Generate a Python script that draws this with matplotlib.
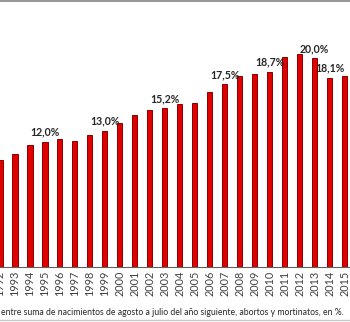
import matplotlib.pyplot as plt
from matplotlib.lines import Line2D

years = list(range(1992, 2016))
ratio = [10.2, 10.8, 11.7, 12.0, 12.2, 12.1, 12.6, 13.0, 13.8, 14.6, 15.0, 15.2,
         15.6, 15.7, 16.8, 17.5, 18.3, 18.5, 18.7, 20.1, 20.4, 20.0, 18.1, 18.3]
labelled = [1995, 1999, 2003, 2007, 2010, 2013, 2014]

caption = ("entre suma de nacimientos de agosto a julio del año siguiente, "
           "abortos y mortinatos, en %.")

plt.rcParams['font.family'] = ['Lato', 'DejaVu Sans']

W, H = 350, 322
fig = plt.figure(figsize=(W / 100, H / 100), dpi=100)
base = 266.5
ax = fig.add_axes([0, (H - base) / H, 1, base / H])

ax.bar(years, ratio, width=0.34, color='#e00000', edgecolor='#8a0000', linewidth=0.7)

for y, v in zip(years, ratio):
    if y in labelled:
        ax.annotate(f"{v:.1f}%".replace('.', ','), (y, v), xytext=(0, 4.6),
                    textcoords='offset points', ha='center', va='baseline',
                    fontsize=7.6, fontweight='bold', color='#262626')

x0 = 1993 - 14.7 / 15
ax.set_xlim(x0, x0 + W / 15)
ax.set_ylim(0, base / 10.41)

ax.set_xticks(years)
ax.set_xticklabels([str(y) for y in years], rotation=90, fontsize=7.8, color='#404040')
ax.tick_params(axis='x', length=0, pad=3)
ax.set_yticks([])
for s in ['top', 'left', 'right']:
    ax.spines[s].set_visible(False)
ax.spines['bottom'].set_color('#606060')
ax.spines['bottom'].set_linewidth(0.8)

# caption squeezed to run from x=1 to x=342
cap = fig.text(1 / W, 1 - 315 / H, caption, ha='left', va='baseline',
               fontsize=7.7, color='#262626')
r = fig.canvas.get_renderer()
wpx = cap.get_window_extent(r).width
cap.set_fontsize(7.7 * 341 / wpx)

# frame lines
fig.add_artist(Line2D([0, 1], [1 - 0.8 / H] * 2, lw=1.3, color='#8c8c8c'))
fig.add_artist(Line2D([0, 1], [1 - 320 / H] * 2, lw=1.0, color='#c8c8c8'))

fig.savefig('out.png', dpi=100, facecolor='white')
